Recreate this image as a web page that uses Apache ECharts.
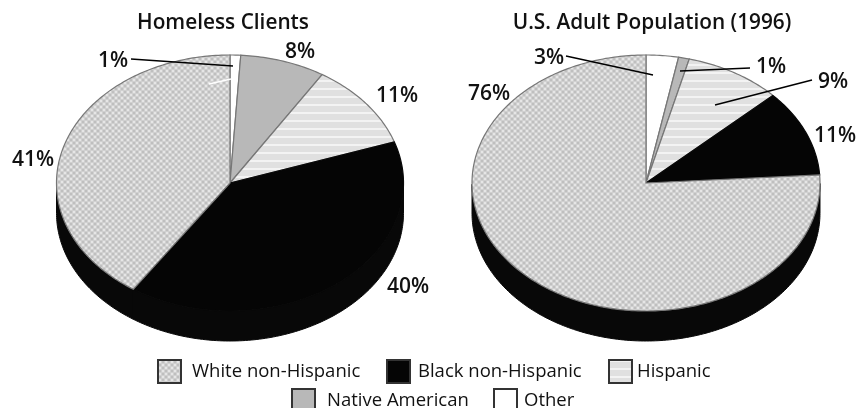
<!DOCTYPE html>
<html><head><meta charset="utf-8">
<style>html,body{margin:0;padding:0;background:#fff}#c{width:857px;height:408px;filter:blur(0.45px)}</style>
<script src="https://cdn.jsdelivr.net/npm/echarts@6/dist/echarts.min.js"></script>
</head><body><div id="c"></div>
<script>
var categories = ['Other','Native American','Hispanic','Black non-Hispanic','White non-Hispanic'];
var homelessClients = [1,8,11,40,41];
var usAdults = [3,1,9,11,76];
var chartTitles = ['Homeless Clients','U.S. Adult Population (1996)'];
var pies = [{cx:230,cy:183,rx:173.5,ry:128,depth:30},{cx:646,cy:183,rx:174,ry:128,depth:30}];
var labelPos = [
  [[113,61],[300,52],[397,96],[408,287],[33,160]],
  [[549,58],[771,67],[833,82],[835,136],[489,94]]
];
var leaders = [
  [[131,59],[233,66],'#000'],[[209,84],[231,79],'#fff'],
  [[566,56],[653,75],'#000'],[[680,71],[750,68],'#000'],[[715,105],[812,80],'#000']
];
var legendPos = {'White non-Hispanic':[157,359,11],'Black non-Hispanic':[386,359,8],'Hispanic':[608,359,5],'Native American':[291,388,12],'Other':[493,388,7]};
var font = '"Open Sans","Noto Sans",sans-serif';

function pattern(w,h,draw){var c=document.createElement('canvas');c.width=w;c.height=h;draw(c.getContext('2d'));return {image:c,repeat:'repeat'};}
var fills = {
  'White non-Hispanic':pattern(6,6,function(g){g.fillStyle='#d0d0d0';g.fillRect(0,0,6,6);g.fillStyle='#e6e6e6';g.fillRect(1,1,2,2);g.fillRect(4,4,2,2);g.fillStyle='#bfbfbf';g.fillRect(4,1,2,2);g.fillRect(1,4,2,2);}),
  'Black non-Hispanic':'#050505',
  'Hispanic':pattern(4,8,function(g){g.fillStyle='#e0e0e0';g.fillRect(0,0,4,8);g.fillStyle='#f3f3f3';g.fillRect(0,0,4,2);}),
  'Native American':'#b8b8b8',
  'Other':'#ffffff'
};
var values = [homelessClients,usAdults];
function pt(p,a,dy){return [p.cx+p.rx*Math.sin(a),p.cy-p.ry*Math.cos(a)+(dy||0)];}
function renderSlice(params,api){
  var ci=params.dataIndex, si=params.seriesIndex, vals=values[ci], p=pies[ci];
  var total=vals.reduce(function(a,b){return a+b},0), before=0;
  for(var i=0;i<si;i++)before+=vals[i];
  var a0=before/total*2*Math.PI, a1=(before+vals[si])/total*2*Math.PI, n=Math.max(4,Math.ceil((a1-a0)*60));
  var face=[[p.cx,p.cy]], side=[], back=[];
  for(var k=0;k<=n;k++){var a=a0+(a1-a0)*k/n;face.push(pt(p,a));
    if(a>=Math.PI/2&&a<=Math.PI*1.5){side.push(pt(p,a));back.unshift(pt(p,a,p.depth));}}
  var kids=[], name=categories[si];
  if(side.length>1)kids.push({type:'polygon',shape:{points:side.concat(back)},style:{fill:'#080808',stroke:'#080808',lineWidth:1}});
  kids.push({type:'polygon',shape:{points:face},style:{fill:fills[name],stroke:name==='Black non-Hispanic'?'#080808':'#777777',lineWidth:1.2}});
  return {type:'group',children:kids};
}
function renderLabel(params,api){
  var ci=Math.floor(params.dataIndex/categories.length), si=params.dataIndex%categories.length, lp=labelPos[ci][si];
  return {type:'text',style:{x:lp[0],y:lp[1],text:api.value(0)+'%',fill:'#111',font:'600 21px '+font,align:'center',verticalAlign:'middle'}};
}
var series=categories.map(function(name,i){return {
  type:'custom',name:name,coordinateSystem:'none',renderItem:renderSlice,silent:true,animation:false,
  itemStyle:{color:fills[name],borderColor:'#333',borderWidth:1},
  data:[homelessClients[i],usAdults[i]]
};});
series.push({type:'custom',name:'labels',coordinateSystem:'none',renderItem:renderLabel,silent:true,animation:false,z:20,
  data:homelessClients.concat(usAdults)});
var legends=categories.map(function(name){var p=legendPos[name];return {
  left:p[0],top:p[1],padding:0,icon:'rect',itemWidth:23,itemHeight:23,selectedMode:false,itemGap:0,data:[name],
  textStyle:{fontFamily:font,fontSize:18.5,color:'#111',padding:[0,0,0,p[2]-5]}};});
echarts.init(document.getElementById('c'),null,{renderer:'canvas'}).setOption({
  animation:false,backgroundColor:'#fff',
  title:[
    {text:chartTitles[0],left:218,top:8,textAlign:'center',textStyle:{fontFamily:font,fontSize:20.8,fontWeight:600,color:'#111'}},
    {text:chartTitles[1],left:647,top:8,textAlign:'center',textStyle:{fontFamily:font,fontSize:20.8,fontWeight:600,color:'#111'}}
  ],
  legend:legends,
  graphic:leaders.map(function(l){return {type:'line',z:100,shape:{x1:l[0][0],y1:l[0][1],x2:l[1][0],y2:l[1][1]},style:{stroke:l[2],lineWidth:1.4}};}),
  series:series
});
</script></body></html>
